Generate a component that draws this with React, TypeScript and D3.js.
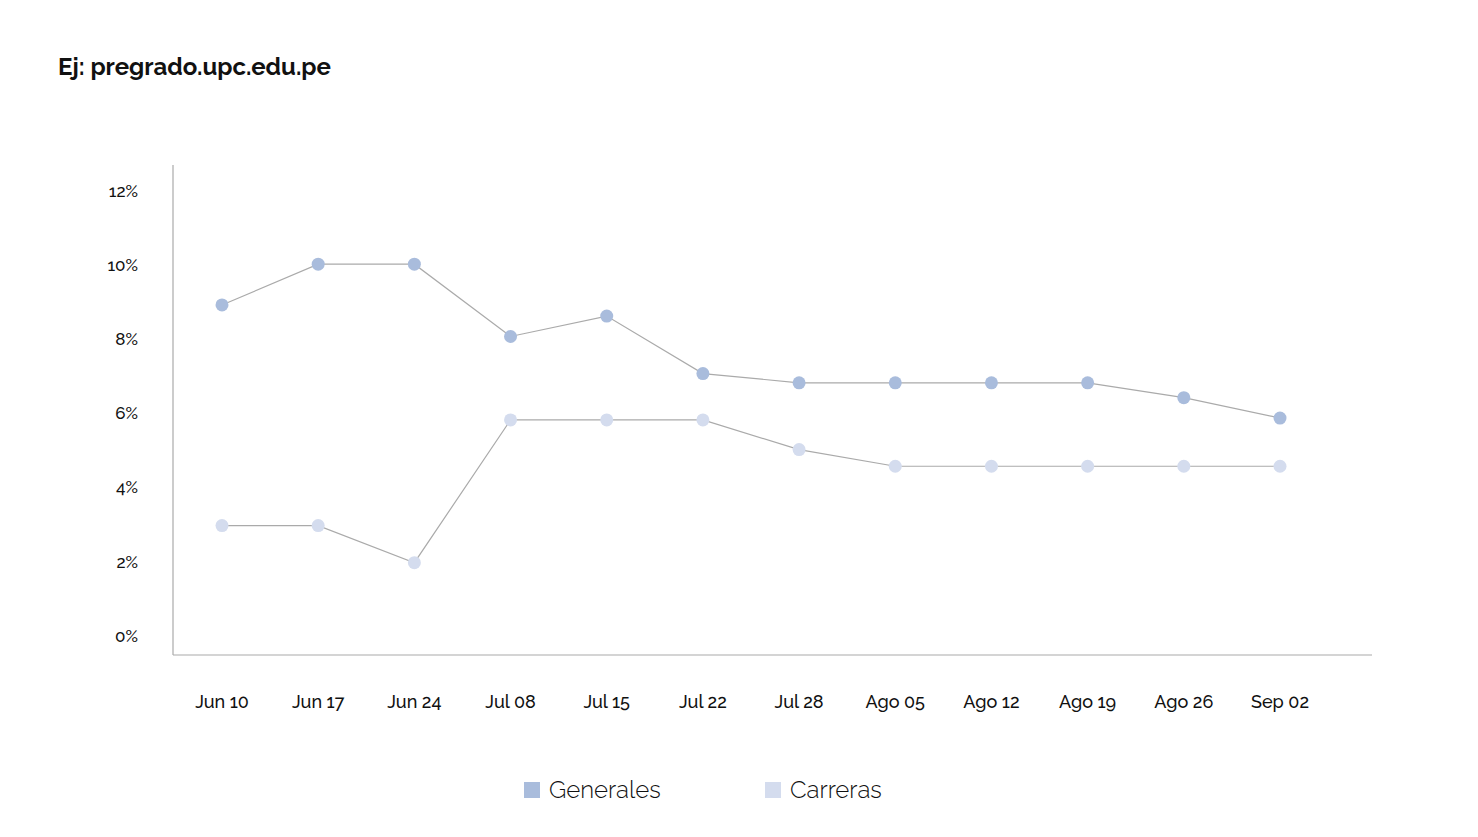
import React from "react";
import * as d3 from "d3";

const categories = ["Jun 10", "Jun 17", "Jun 24", "Jul 08", "Jul 15", "Jul 22", "Jul 28", "Ago 05", "Ago 12", "Ago 19", "Ago 26", "Sep 02"];
const generales = [8.9, 10.0, 10.0, 8.05, 8.6, 7.05, 6.8, 6.8, 6.8, 6.8, 6.4, 5.85];
const carreras = [2.95, 2.95, 1.95, 5.8, 5.8, 5.8, 5.0, 4.55, 4.55, 4.55, 4.55, 4.55];
const yTicks = [0, 2, 4, 6, 8, 10, 12];
const seriesNames = ["Generales", "Carreras"];
const seriesColors = ["#a9bcdc", "#d4dcee"];

const FONT = "Raleway, Lato, 'Open Sans', sans-serif";

export default function App() {
  const W = 1478, H = 837;
  const x = d3.scalePoint<string>().domain(categories).range([222, 1280]);
  const y = d3.scaleLinear().domain([0, 12]).range([635, 190]);
  const line = d3.line<number>().x((_, i) => x(categories[i]) as number).y((d) => y(d));
  const series = [generales, carreras];

  return (
    <svg width={W} height={H} style={{ position: "absolute", left: 0, top: 0, background: "#fff" }} fontFamily={FONT}>
      <text x={58} y={75} fontSize={24} fontWeight={700} fill="#111">Ej: pregrado.upc.edu.pe</text>
      {/* axes */}
      <line x1={173} x2={173} y1={165} y2={655} stroke="#aaa" strokeWidth={1.2} />
      <line x1={173} x2={1372} y1={655} y2={655} stroke="#aaa" strokeWidth={1.2} />
      {yTicks.map((t) => (
        <text key={t} x={138} y={y(t)} dy="0.4em" textAnchor="end" fontSize={17} fontWeight={500} fill="#111" style={{ fontVariantNumeric: "oldstyle-nums" }}>
          {t}%
        </text>
      ))}
      {categories.map((c) => (
        <text key={c} x={x(c)} y={702} dy="0.35em" textAnchor="middle" fontSize={18} fontWeight={500} fill="#111" style={{ fontVariantNumeric: "oldstyle-nums" }}>
          {c}
        </text>
      ))}
      {series.map((s, si) => (
        <g key={si}>
          <path d={line(s) || ""} fill="none" stroke="#aaa" strokeWidth={1.2} />
          {s.map((v, i) => (
            <circle key={i} cx={x(categories[i])} cy={y(v)} r={6.5} fill={seriesColors[si]} />
          ))}
        </g>
      ))}
      {/* legend */}
      {seriesNames.map((n, i) => (
        <g key={n} transform={`translate(${524 + i * 241},782)`}>
          <rect x={0} y={0} width={16} height={16} fill={seriesColors[i]} />
          <text x={25} y={8} dy="0.35em" fontSize={24} fontWeight={300} fill="#111">{n}</text>
        </g>
      ))}
    </svg>
  );
}
